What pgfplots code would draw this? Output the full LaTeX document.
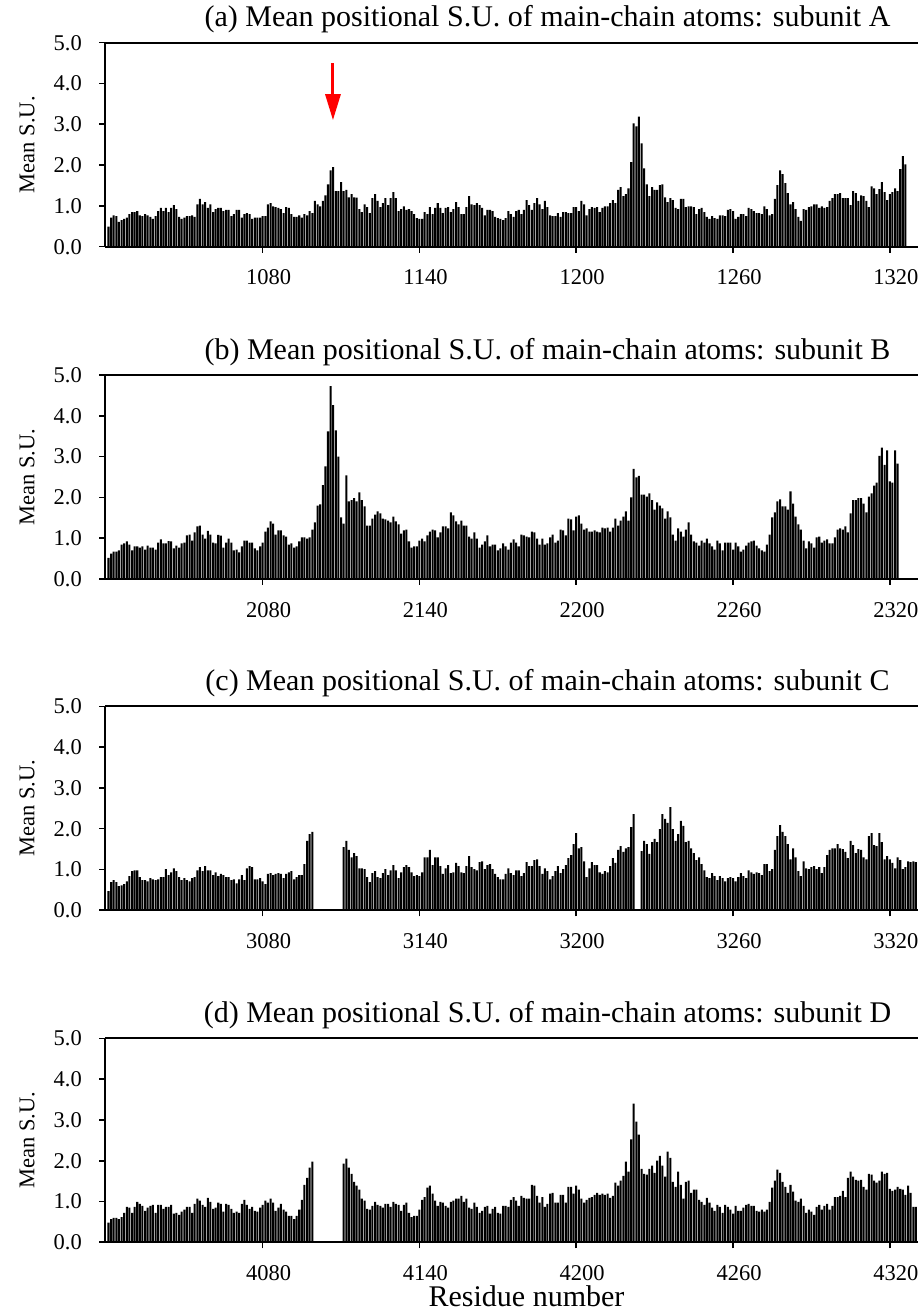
\documentclass[border=0pt]{standalone}
\usepackage{fontspec}
\setmainfont{Liberation Serif}
\usepackage{pgfplots}
\usepackage{pgfplotstable}
\pgfplotsset{compat=1.18}
\usetikzlibrary{arrows.meta}

\newcommand{\titlefont}{\fontsize{30bp}{36bp}\selectfont}
\newcommand{\xlabfont}{\fontsize{30bp}{36bp}\selectfont}
\newcommand{\tickfont}{\fontsize{22.5bp}{27bp}\selectfont}

% subunit A, residues 1021-1326
\pgfplotstableread[row sep=\\]{v\\
0.49\\0.71\\0.77\\0.75\\0.61\\0.65\\0.68\\0.71\\0.80\\0.85\\
0.85\\0.87\\0.77\\0.75\\0.80\\0.77\\0.73\\0.68\\0.75\\0.87\\
0.95\\0.87\\0.95\\0.85\\0.95\\1.02\\0.92\\0.73\\0.68\\0.71\\
0.75\\0.75\\0.77\\0.73\\1.04\\1.17\\1.04\\1.09\\0.95\\1.04\\
0.85\\0.92\\0.95\\0.95\\0.87\\0.90\\0.90\\0.75\\0.80\\0.90\\
0.90\\0.71\\0.80\\0.82\\0.80\\0.68\\0.71\\0.71\\0.71\\0.75\\
0.75\\1.04\\1.07\\0.99\\0.97\\0.95\\0.92\\0.82\\0.97\\0.95\\
0.80\\0.73\\0.73\\0.77\\0.71\\0.80\\0.77\\0.87\\0.82\\1.12\\
1.04\\0.99\\1.12\\1.26\\1.53\\1.87\\1.95\\1.36\\1.36\\1.58\\
1.36\\1.39\\1.21\\1.29\\1.21\\1.20\\0.92\\0.85\\1.04\\0.97\\
0.82\\1.19\\1.29\\1.12\\0.97\\1.07\\1.19\\1.02\\1.19\\1.34\\
1.19\\0.87\\0.92\\0.99\\0.90\\0.92\\0.87\\0.80\\0.70\\0.68\\
0.68\\0.85\\0.80\\0.97\\0.80\\0.95\\1.07\\0.95\\0.82\\0.95\\
0.97\\0.85\\0.92\\1.09\\0.97\\0.80\\0.80\\0.97\\1.24\\1.04\\
1.02\\1.07\\1.02\\0.95\\0.77\\0.90\\0.90\\0.87\\0.73\\0.70\\
0.68\\0.65\\0.70\\0.87\\0.80\\0.73\\0.87\\0.90\\0.80\\0.90\\
1.14\\1.02\\0.90\\1.07\\1.19\\1.04\\0.92\\1.12\\0.97\\0.77\\
0.75\\0.75\\0.82\\0.73\\0.85\\0.85\\0.82\\0.82\\0.97\\0.97\\
0.87\\1.12\\1.04\\0.77\\0.92\\0.97\\0.95\\0.97\\0.85\\0.95\\
0.99\\0.99\\1.07\\1.14\\1.07\\1.39\\1.46\\1.24\\1.29\\1.43\\
2.07\\3.02\\2.95\\3.19\\2.53\\1.92\\1.53\\1.24\\1.46\\1.39\\
1.39\\1.51\\1.53\\1.21\\1.09\\1.19\\1.14\\0.95\\0.92\\1.17\\
1.17\\0.97\\0.99\\0.99\\0.97\\0.80\\0.92\\0.95\\0.85\\0.73\\
0.68\\0.75\\0.70\\0.68\\0.77\\0.77\\0.75\\0.90\\0.92\\0.87\\
0.68\\0.73\\0.80\\0.80\\0.75\\0.95\\0.92\\0.87\\0.82\\0.82\\
0.80\\0.99\\0.92\\0.77\\0.80\\1.17\\1.51\\1.87\\1.78\\1.56\\
1.31\\1.04\\1.09\\0.92\\0.73\\0.63\\0.92\\0.90\\0.97\\0.99\\
1.04\\1.04\\0.95\\0.99\\0.95\\0.97\\1.12\\1.19\\1.29\\1.29\\
1.31\\1.19\\1.19\\1.19\\1.02\\1.36\\1.31\\1.12\\1.26\\1.24\\
1.12\\0.97\\1.48\\1.43\\1.29\\1.41\\1.58\\1.34\\1.14\\1.29\\
1.34\\1.43\\1.36\\1.90\\2.22\\2.02\\
}\dataA

% subunit B, residues 2021-2323
\pgfplotstableread[row sep=\\]{v\\
0.52\\0.62\\0.67\\0.67\\0.70\\0.84\\0.87\\0.92\\0.84\\0.70\\
0.80\\0.80\\0.77\\0.80\\0.72\\0.82\\0.77\\0.77\\0.72\\0.89\\
0.97\\0.87\\0.87\\0.93\\0.92\\0.75\\0.82\\0.77\\0.87\\0.89\\
1.07\\1.09\\0.94\\1.14\\1.29\\1.31\\1.09\\0.99\\1.18\\1.09\\
0.89\\0.87\\1.08\\1.06\\0.77\\0.89\\0.99\\0.89\\0.70\\0.72\\
0.65\\0.80\\0.94\\0.94\\0.89\\0.89\\0.75\\0.70\\0.80\\0.89\\
1.16\\1.26\\1.41\\1.36\\1.09\\1.19\\1.19\\1.07\\1.04\\0.84\\
0.87\\0.77\\0.80\\0.92\\1.02\\1.02\\0.99\\1.02\\1.21\\1.39\\
1.80\\1.83\\2.30\\2.76\\3.62\\4.73\\4.26\\3.64\\3.00\\1.51\\
1.36\\2.54\\1.90\\1.93\\1.98\\1.90\\2.12\\1.93\\1.78\\1.31\\
1.31\\1.48\\1.58\\1.66\\1.61\\1.48\\1.46\\1.43\\1.39\\1.53\\
1.41\\1.34\\1.11\\1.19\\1.21\\0.92\\0.77\\0.80\\0.80\\0.94\\
0.99\\0.92\\1.07\\1.16\\1.21\\1.19\\1.02\\1.14\\1.29\\1.29\\
1.24\\1.63\\1.56\\1.41\\1.34\\1.43\\1.31\\1.31\\1.04\\0.99\\
1.14\\0.99\\0.77\\0.84\\0.92\\1.07\\0.80\\0.84\\0.84\\0.70\\
0.75\\0.87\\0.80\\0.72\\0.89\\0.97\\0.89\\0.80\\1.09\\1.07\\
1.04\\1.02\\1.16\\1.14\\0.99\\0.84\\0.99\\0.84\\0.87\\1.02\\
1.09\\0.89\\0.94\\1.21\\1.19\\1.07\\1.48\\1.46\\1.19\\1.53\\
1.56\\1.36\\1.21\\1.24\\1.16\\1.16\\1.19\\1.16\\1.14\\1.26\\
1.24\\1.26\\1.16\\1.26\\1.48\\1.31\\1.43\\1.53\\1.66\\1.43\\
2.00\\2.70\\2.49\\2.53\\2.07\\2.07\\2.02\\2.10\\1.93\\1.70\\
1.88\\1.80\\1.73\\1.48\\1.66\\1.51\\1.09\\0.94\\1.24\\1.16\\
1.04\\1.21\\1.39\\1.09\\0.92\\0.89\\0.82\\0.94\\0.89\\0.99\\
0.87\\0.80\\0.72\\0.94\\0.87\\0.70\\0.89\\0.89\\0.89\\0.72\\
0.89\\0.80\\0.67\\0.72\\0.82\\0.89\\0.92\\0.94\\0.82\\0.75\\
0.70\\0.67\\0.84\\1.09\\1.51\\1.63\\1.90\\1.95\\1.78\\1.78\\
1.70\\2.15\\1.85\\1.53\\1.34\\1.21\\0.94\\0.75\\0.92\\0.87\\
0.77\\1.02\\1.04\\0.89\\0.94\\0.97\\0.87\\0.87\\1.02\\1.21\\
1.24\\1.21\\1.29\\1.14\\1.61\\1.93\\1.93\\1.98\\1.98\\1.85\\
1.63\\2.02\\2.10\\2.29\\2.36\\3.02\\3.22\\2.80\\3.15\\2.39\\
2.36\\3.15\\2.83\\
}\dataB

% subunit C, residues 3021-3330 (0 = residue not modelled)
\pgfplotstableread[row sep=\\]{v\\
0.47\\0.69\\0.74\\0.69\\0.59\\0.61\\0.64\\0.71\\0.84\\0.96\\
0.98\\0.98\\0.81\\0.74\\0.74\\0.71\\0.79\\0.76\\0.74\\0.76\\
0.81\\0.81\\1.01\\0.86\\0.93\\1.03\\0.96\\0.81\\0.74\\0.79\\
0.74\\0.71\\0.79\\0.81\\0.98\\1.06\\0.96\\1.08\\0.98\\0.98\\
0.86\\0.93\\0.84\\0.89\\0.86\\0.81\\0.81\\0.74\\0.76\\0.66\\
0.76\\0.86\\0.74\\1.03\\1.08\\1.06\\0.76\\0.76\\0.79\\0.71\\
0.64\\0.89\\0.91\\0.86\\0.89\\0.91\\0.89\\0.79\\0.89\\0.93\\
0.96\\0.76\\0.81\\0.86\\0.86\\1.13\\1.70\\1.87\\1.92\\0\\
0\\0\\0\\0\\0\\0\\0\\0\\0\\0\\
1.55\\1.70\\1.48\\1.30\\1.40\\1.33\\1.03\\1.03\\1.01\\0.81\\
0.69\\0.91\\0.96\\0.81\\0.79\\0.91\\1.01\\0.86\\0.98\\1.11\\
0.98\\0.79\\0.93\\1.06\\1.11\\1.06\\0.93\\0.84\\0.86\\0.84\\
0.93\\1.30\\1.30\\1.48\\1.11\\1.30\\1.30\\1.08\\0.89\\1.03\\
1.11\\0.91\\0.93\\1.16\\1.08\\0.93\\0.91\\1.08\\1.33\\1.06\\
1.01\\0.98\\1.18\\1.20\\1.01\\1.11\\1.13\\1.01\\0.89\\0.81\\
0.76\\0.76\\0.89\\1.03\\0.91\\0.86\\0.98\\0.98\\0.84\\0.91\\
1.18\\1.08\\1.08\\1.23\\1.25\\1.08\\0.89\\1.03\\0.96\\0.76\\
0.84\\0.96\\1.08\\0.91\\1.01\\1.11\\1.28\\1.35\\1.62\\1.89\\
1.52\\1.55\\1.20\\0.81\\1.03\\1.18\\1.11\\1.11\\0.93\\0.89\\
0.96\\0.93\\1.08\\1.28\\1.16\\1.48\\1.57\\1.43\\1.52\\1.55\\
2.04\\2.36\\0\\0\\1.45\\1.70\\1.62\\1.38\\1.67\\1.75\\
1.67\\1.99\\2.36\\2.24\\2.14\\2.53\\1.99\\1.70\\1.87\\2.19\\
2.07\\1.67\\1.70\\1.52\\1.40\\1.23\\1.30\\1.13\\0.98\\0.81\\
0.79\\0.91\\0.84\\0.74\\0.84\\0.79\\0.71\\0.79\\0.81\\0.79\\
0.71\\0.81\\0.91\\0.84\\0.79\\0.98\\0.93\\0.89\\0.93\\0.91\\
0.86\\1.13\\1.13\\0.96\\1.01\\1.48\\1.82\\2.09\\1.92\\1.82\\
1.62\\1.25\\1.52\\1.30\\0.96\\0.84\\1.20\\1.03\\1.01\\1.06\\
1.08\\1.01\\1.06\\0.91\\1.06\\1.35\\1.48\\1.52\\1.52\\1.62\\
1.52\\1.50\\1.43\\1.28\\1.70\\1.60\\1.40\\1.50\\1.48\\1.30\\
1.25\\1.82\\1.89\\1.60\\1.57\\1.89\\1.67\\1.25\\1.33\\1.25\\
1.16\\1.03\\1.30\\1.23\\1.01\\1.06\\1.20\\1.18\\1.20\\1.18\\
}\dataC

% subunit D, residues 4021-4330 (0 = residue not modelled)
\pgfplotstableread[row sep=\\]{v\\
0.48\\0.57\\0.60\\0.60\\0.57\\0.62\\0.72\\0.87\\0.85\\0.72\\
0.87\\0.99\\0.94\\0.89\\0.77\\0.85\\0.89\\0.92\\0.72\\0.92\\
0.92\\0.82\\0.87\\0.87\\0.92\\0.70\\0.72\\0.67\\0.75\\0.80\\
0.87\\0.87\\0.72\\0.94\\1.07\\1.02\\0.92\\0.87\\1.09\\0.99\\
0.82\\0.85\\0.97\\0.94\\0.75\\0.94\\0.92\\0.82\\0.72\\0.75\\
0.72\\0.94\\1.04\\0.92\\0.82\\0.87\\0.77\\0.75\\0.85\\0.92\\
1.02\\0.97\\1.07\\0.97\\0.77\\0.85\\0.94\\0.80\\0.75\\0.65\\
0.65\\0.57\\0.65\\0.80\\1.04\\1.41\\1.58\\1.83\\1.98\\0\\
0\\0\\0\\0\\0\\0\\0\\0\\0\\0\\
1.93\\2.05\\1.83\\1.68\\1.48\\1.39\\1.29\\1.07\\1.02\\0.82\\
0.80\\0.89\\0.99\\0.92\\0.89\\0.85\\0.94\\0.94\\0.87\\0.99\\
0.94\\0.92\\0.77\\0.92\\0.97\\0.72\\0.62\\0.65\\0.65\\0.80\\
1.04\\1.11\\1.34\\1.39\\1.19\\1.02\\0.89\\0.99\\0.97\\0.89\\
0.85\\0.99\\1.02\\1.07\\1.07\\1.14\\0.99\\1.07\\0.85\\0.82\\
0.97\\0.87\\0.72\\0.77\\0.87\\0.89\\0.70\\0.82\\0.87\\0.72\\
0.70\\0.89\\0.89\\0.87\\1.04\\1.11\\1.02\\0.89\\1.14\\1.09\\
1.07\\1.07\\1.41\\1.39\\1.14\\0.97\\1.11\\0.87\\0.94\\1.19\\
1.21\\0.97\\0.97\\1.16\\1.16\\0.97\\1.36\\1.36\\1.19\\1.39\\
1.29\\1.07\\0.97\\1.04\\1.09\\1.11\\1.16\\1.21\\1.16\\1.19\\
1.16\\1.19\\1.09\\1.14\\1.46\\1.39\\1.51\\1.63\\1.98\\1.73\\
2.52\\3.40\\2.96\\2.64\\1.80\\1.68\\1.66\\1.80\\1.88\\1.70\\
2.00\\2.12\\1.88\\1.61\\2.22\\2.07\\1.48\\1.36\\1.73\\1.41\\
1.07\\1.48\\1.51\\1.21\\1.29\\1.29\\1.04\\0.99\\0.92\\1.09\\
0.97\\0.85\\0.77\\0.92\\0.87\\0.72\\0.92\\0.87\\0.80\\0.70\\
0.89\\0.77\\0.77\\0.85\\0.92\\0.94\\0.89\\0.89\\0.77\\0.75\\
0.80\\0.75\\0.80\\0.99\\1.34\\1.51\\1.78\\1.70\\1.48\\1.36\\
1.21\\1.41\\1.24\\1.02\\0.99\\1.07\\0.89\\0.72\\0.80\\0.75\\
0.67\\0.87\\0.92\\0.80\\0.89\\0.94\\0.80\\0.89\\1.11\\1.11\\
1.14\\1.26\\1.11\\1.58\\1.73\\1.61\\1.53\\1.51\\1.53\\1.36\\
1.29\\1.68\\1.66\\1.51\\1.46\\1.51\\1.73\\1.68\\1.70\\1.31\\
1.26\\1.29\\1.36\\1.31\\1.29\\1.16\\1.39\\1.21\\0.87\\0.87\\
}\dataD

\pgfplotsset{
  panel/.style={
    scale only axis, width=885bp, height=204bp,
    ymin=0, ymax=5, ytick={0,1,2,3,4,5},
    axis x line=box, axis y line=left,
    x axis line style={-}, y axis line style={-},
    axis line style={line width=2bp, black},
    tick pos=left, tick align=outside,
    major tick length=6bp,
    major tick style={line width=1.6bp, black},
    /pgf/number format/assume math mode=true,
    ticklabel style={font=\tickfont},
    y tick label style={/pgf/number format/.cd, fixed, fixed zerofill, precision=1, /tikz/.cd,
      anchor=east, inner sep=0pt, xshift=-17bp},
    x tick label style={anchor=north, inner sep=0pt, yshift=-17bp, xshift=6bp},
    ylabel={Mean S.U.},
    every axis y label/.style={at={(axis description cs:-0.0881,0.5)}, rotate=90,
      anchor=center, font=\tickfont},
    title style={font=\titlefont, at={(axis description cs:0.5,1)}, anchor=base, yshift=10bp},
  },
  bars/.style={ybar, bar width=0.77, fill=black, draw=none},
}

\begin{document}
\begin{tikzpicture}
\begin{axis}[panel, at={(105bp,1064.3bp)}, anchor=south west,
  xmin=1019.66, xmax=1358.35,
  xtick={1080,1140,1200,1260,1320}, xticklabels={1080,1140,1200,1260,1320},
  title={(a) Mean positional S.U. of main-chain atoms: subunit A}]
\addplot[bars] table[x expr=\coordindex+1021, y=v] {\dataA};
\draw[red, line width=3bp, -{Triangle[width=15bp,length=26bp]}]
  (axis cs:1106.9,4.50) -- (axis cs:1106.9,3.10);
\end{axis}

\begin{axis}[panel, at={(105bp,732bp)}, anchor=south west,
  xmin=2019.66, xmax=2358.35,
  xtick={2080,2140,2200,2260,2320}, xticklabels={2080,2140,2200,2260,2320},
  title={(b) Mean positional S.U. of main-chain atoms: subunit B}]
\addplot[bars] table[x expr=\coordindex+2021, y=v] {\dataB};
\end{axis}

\begin{axis}[panel, at={(105bp,400.7bp)}, anchor=south west,
  xmin=3019.66, xmax=3358.35,
  xtick={3080,3140,3200,3260,3320}, xticklabels={3080,3140,3200,3260,3320},
  title={(c) Mean positional S.U. of main-chain atoms: subunit C}]
\addplot[bars] table[x expr=\coordindex+3021, y=v] {\dataC};
\end{axis}

\begin{axis}[panel, at={(105bp,68.7bp)}, anchor=south west,
  xmin=4019.66, xmax=4358.35,
  xtick={4080,4140,4200,4260,4320}, xticklabels={4080,4140,4200,4260,4320},
  title={(d) Mean positional S.U. of main-chain atoms: subunit D},
  xlabel={Residue number},
  every axis x label/.style={at={(axis description cs:0.4763,0)}, anchor=base,
    inner sep=0pt, yshift=-64.5bp, font=\xlabfont}]
\addplot[bars] table[x expr=\coordindex+4021, y=v] {\dataD};
\end{axis}
\pgfresetboundingbox
\useasboundingbox (0,0) rectangle (918bp,1311bp);
\end{tikzpicture}
\end{document}
